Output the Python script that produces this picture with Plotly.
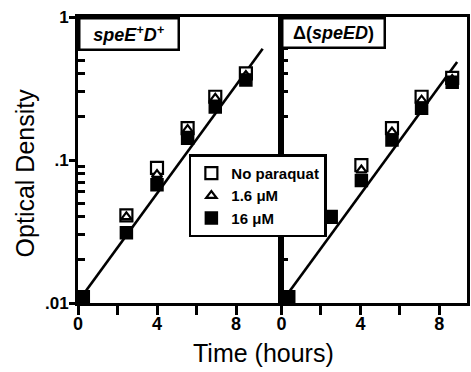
import plotly.graph_objects as go

# ---- data ----
series_names = ["No paraquat", "1.6 μM", "16 μM"]

# left panel: speE+D+
left_time = [0.25, 2.45, 4.0, 5.55, 6.95, 8.5]
left_none = [0.011, 0.041, 0.088, 0.167, 0.277, 0.404]
left_low = [0.011, 0.040, 0.079, 0.163, 0.270, 0.390]
left_high = [0.011, 0.031, 0.067, 0.142, 0.235, 0.363]
left_fit_x = [0.0, 9.35]
left_fit_y = [0.0102, 0.60]

# right panel: Δ(speED)
right_time = [0.35, 2.5, 4.05, 5.6, 7.1, 8.65]
right_none = [0.011, 0.040, 0.092, 0.167, 0.277, 0.375]
right_low = [0.011, 0.040, 0.085, 0.157, 0.262, 0.365]
right_high = [0.011, 0.040, 0.072, 0.138, 0.230, 0.350]
right_fit_x = [0.0, 8.9]
right_fit_y = [0.0101, 0.484]

x_tick_vals = [0, 4, 8]
x_tick_text = ["0", "4", "8"]
x_minor_vals = [2, 6]
y_tick_vals = [0.01, 0.1, 1]
y_tick_text = [".01", ".1", "1"]
y_minor_vals = [0.02, 0.03, 0.04, 0.05, 0.06, 0.07, 0.08, 0.09,
                0.2, 0.3, 0.4, 0.5, 0.6, 0.7, 0.8, 0.9]

FONT = "Liberation Sans, Arial, Helvetica, sans-serif"

fig = go.Figure()

styles = [
    dict(symbol="square", size=12, color="white", line=dict(color="black", width=2.2)),
    dict(symbol="triangle-up", size=9, color="white", line=dict(color="black", width=2.2)),
    dict(symbol="square", size=12, color="black", line=dict(color="black", width=1.5)),
]

for panel, (t, vals, fx, fy, xa, ya) in enumerate([
    (left_time, [left_none, left_low, left_high], left_fit_x, left_fit_y, "x", "y"),
    (right_time, [right_none, right_low, right_high], right_fit_x, right_fit_y, "x2", "y2"),
]):
    fig.add_trace(go.Scatter(x=fx, y=fy, mode="lines", xaxis=xa, yaxis=ya,
                             line=dict(color="black", width=2.6), showlegend=False,
                             hoverinfo="skip"))
    for i, (name, v) in enumerate(zip(series_names, vals)):
        fig.add_trace(go.Scatter(x=t, y=v, mode="markers", name=name, xaxis=xa, yaxis=ya,
                                 marker=styles[i], showlegend=(panel == 0),
                                 legendrank=i + 1))

split = 205 / 392

common_x = dict(showline=True, linewidth=3, linecolor="black", mirror=True,
                ticks="outside", ticklen=9, tickwidth=2.5, tickcolor="black",
                ticklabelstandoff=-7,
                tickmode="array", tickvals=x_tick_vals, ticktext=x_tick_text,
                minor=dict(tickmode="array", tickvals=x_minor_vals, ticks="outside",
                           ticklen=9, tickwidth=2.5, tickcolor="black", showgrid=False),
                tickfont=dict(family=FONT, size=18, color="black", weight="bold"),
                showgrid=False, zeroline=False)
common_y = dict(type="log", range=[-2, 0], showline=True, linewidth=3, linecolor="black",
                mirror=True, tickmode="array", tickvals=y_tick_vals, ticktext=y_tick_text,
                ticklen=6, tickwidth=2.5, tickcolor="black",
                minor=dict(tickmode="array", tickvals=y_minor_vals, ticks="inside",
                           ticklen=7, tickwidth=2.5, tickcolor="black", showgrid=False),
                tickfont=dict(family=FONT, size=17, color="black", weight="bold"),
                showgrid=False, zeroline=False)

fig.update_layout(
    width=471, height=372,
    margin=dict(l=78, r=1, t=17, b=69),
    paper_bgcolor="white", plot_bgcolor="white",
    xaxis=dict(domain=[0, split], range=[0, 10.3], anchor="y", **common_x),
    xaxis2=dict(domain=[split, 1], range=[0, 9.4], anchor="y2", **common_x),
    yaxis=dict(domain=[0, 1], anchor="x", ticks="outside", ticklabelstandoff=-3, **common_y),
    yaxis2=dict(domain=[0, 1], anchor="x2", ticks="inside", showticklabels=False, **common_y),
    legend=dict(x=0.285, y=0.52, xanchor="left", yanchor="top",
                bgcolor="white", bordercolor="black", borderwidth=2.5,
                font=dict(family=FONT, size=15, color="black", weight="bold"),
                tracegroupgap=0, itemwidth=30),
    showlegend=True,
)

fig.add_annotation(xref="x domain", yref="y domain", x=0, y=1, xanchor="left", yanchor="top",
                   text="<i>speE<sup>+</sup>D<sup>+</sup></i>", showarrow=False,
                   width=95, height=27, borderpad=1, borderwidth=2.5, bordercolor="black",
                   bgcolor="white", align="center", valign="middle",
                   font=dict(family=FONT, size=18, color="black", weight="bold"))
fig.add_annotation(xref="x2 domain", yref="y2 domain", x=0, y=1, xanchor="left", yanchor="top",
                   text="Δ(<i>speED</i>)", showarrow=False,
                   width=98, height=25, borderpad=1, borderwidth=2.5, bordercolor="black",
                   bgcolor="white", align="center", valign="middle",
                   font=dict(family=FONT, size=18, color="black", weight="bold"))

fig.add_annotation(xref="paper", yref="paper", x=(265 - 78) / 392, y=(303 - 353) / 286,
                   xanchor="center", yanchor="middle", text="Time (hours)", showarrow=False,
                   font=dict(family=FONT, size=25, color="black"))
fig.add_annotation(xref="paper", yref="paper", x=(25 - 78) / 392, y=(303 - 173) / 286,
                   xanchor="center", yanchor="middle", text="Optical Density", showarrow=False,
                   textangle=-90, font=dict(family=FONT, size=25, color="black"))

fig.write_html(
    "out.html",
    config={"displayModeBar": False},
    post_script="document.body.style.margin='0';document.body.style.overflow='hidden';",
)
